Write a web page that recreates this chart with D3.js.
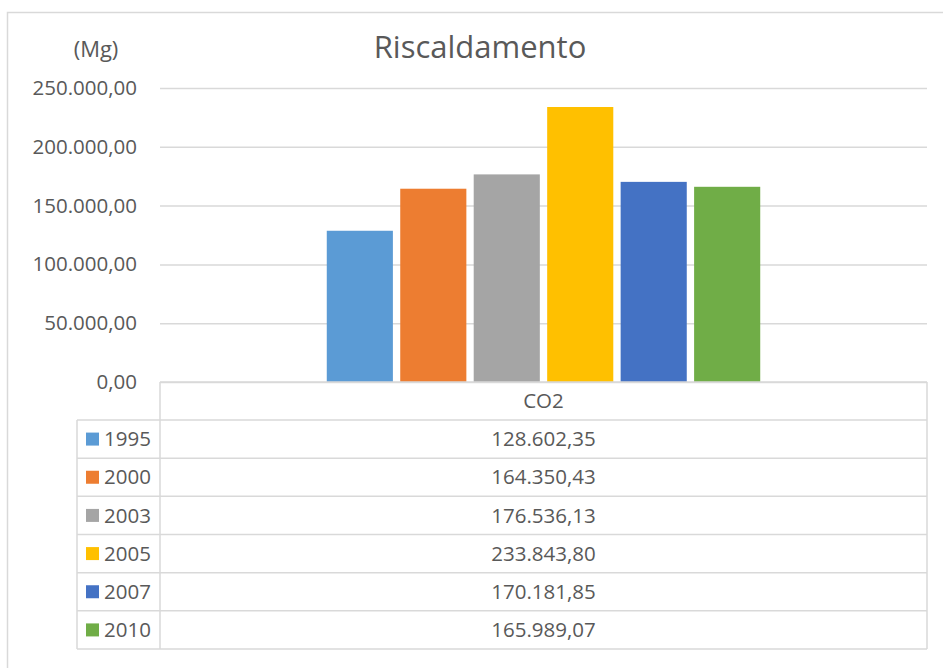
<!DOCTYPE html>
<html>
<head>
<meta charset="utf-8">
<script src="https://cdn.jsdelivr.net/npm/d3@7"></script>
<style>
  body { margin: 0; background: #fff; }
  svg text { font-family: "Open Sans", "Liberation Sans", sans-serif; fill: #595959; }
</style>
</head>
<body>
<div id="svg_container"></div>
<script>
/* -----------------------
data
------------------------- */

var categories = ["CO2"];
var years = ["1995", "2000", "2003", "2005", "2007", "2010"];
var values = [128602.35, 164350.43, 176536.13, 233843.80, 170181.85, 165989.07];
var colors = ["#5B9BD5", "#ED7D31", "#A5A5A5", "#FFC000", "#4472C4", "#70AD47"];
var yTicks = [0, 50000, 100000, 150000, 200000, 250000];
var title = "Riscaldamento";
var unit = "(Mg)";

/* -----------------------
main variables
------------------------- */

var width = 943;
var height = 668;
var plot = {left: 160, right: 927, top: 88, bottom: 382};
var table = {left: 77, headerBottom: 420, bottom: 649};
var lineColor = "#d9d9d9";
var fontSize = "20.5px";

var it = d3.formatLocale({decimal: ",", thousands: ".", grouping: [3], currency: ["", "€"]});
var fmt = it.format(",.2f");

var svg = d3.select("#svg_container")
	.append("svg")
	.attr("width", width)
	.attr("height", height);

// chart frame (cut by the picture on the right and bottom)
svg.append("rect")
	.attr("x", 7.5)
	.attr("y", 12.5)
	.attr("width", 1000)
	.attr("height", 1000)
	.attr("fill", "none")
	.attr("stroke", lineColor)
	.attr("stroke-width", 1.5);

/* -----------------------
scales
------------------------- */

var y = d3.scaleLinear()
	.domain([0, 250000])
	.range([plot.bottom, plot.top]);

var x0 = d3.scaleBand()
	.domain(categories)
	.range([plot.left, plot.right])
	.paddingOuter(0.37);

var x1 = d3.scaleBand()
	.domain(years)
	.range([0, x0.bandwidth()])
	.paddingInner(0.1)
	.paddingOuter(0.05);

var row = d3.scaleBand()
	.domain(years)
	.range([table.headerBottom, table.bottom]);

/* -----------------------
axis + grid
------------------------- */

var yAxis = svg.append("g")
	.attr("transform", "translate(" + plot.left + ",0)")
	.call(d3.axisLeft(y).tickValues(yTicks).tickFormat(fmt).tickSize(-(plot.right - plot.left)).tickPadding(23));

yAxis.select(".domain").remove();
yAxis.selectAll(".tick line").attr("stroke", lineColor).attr("stroke-width", 1.5);
yAxis.selectAll(".tick text")
	.style("font-size", fontSize)
	.attr("fill", "#595959");

/* -----------------------
bars
------------------------- */

var group = svg.selectAll(".cat")
	.data(categories)
	.enter()
	.append("g")
	.attr("class", "cat")
	.attr("transform", function(d) { return "translate(" + x0(d) + ",0)"; });

group.selectAll("rect")
	.data(years)
	.enter()
	.append("rect")
	.attr("x", function(d) { return x1(d); })
	.attr("y", function(d, i) { return y(values[i]); })
	.attr("width", x1.bandwidth())
	.attr("height", function(d, i) { return y(0) - y(values[i]); })
	.attr("fill", function(d, i) { return colors[i]; });

/* -----------------------
data table
------------------------- */

var grid = svg.append("g")
	.attr("fill", "none")
	.attr("stroke", lineColor)
	.attr("stroke-width", 1.5);

// header row
grid.append("line").attr("x1", plot.left).attr("x2", plot.right).attr("y1", plot.bottom).attr("y2", plot.bottom);
// rows
years.forEach(function(d) {
	grid.append("line")
		.attr("x1", table.left).attr("x2", plot.right)
		.attr("y1", row(d)).attr("y2", row(d));
});
grid.append("line").attr("x1", table.left).attr("x2", plot.right).attr("y1", table.bottom).attr("y2", table.bottom);
// verticals
grid.append("line").attr("x1", table.left).attr("x2", table.left).attr("y1", table.headerBottom).attr("y2", table.bottom);
grid.append("line").attr("x1", plot.left).attr("x2", plot.left).attr("y1", plot.bottom).attr("y2", table.bottom);
grid.append("line").attr("x1", plot.right).attr("x2", plot.right).attr("y1", plot.bottom).attr("y2", table.bottom);

categories.forEach(function(c) {
	svg.append("text")
		.attr("x", x0(c) + x0.bandwidth() / 2)
		.attr("y", (plot.bottom + table.headerBottom) / 2)
		.attr("dy", "0.35em")
		.attr("text-anchor", "middle")
		.style("font-size", fontSize)
		.text(c);
});

var rows = svg.selectAll(".row")
	.data(years)
	.enter()
	.append("g")
	.attr("class", "row")
	.attr("transform", function(d) { return "translate(0," + (row(d) + row.bandwidth() / 2) + ")"; });

rows.append("rect")
	.attr("x", 86)
	.attr("y", -6.5)
	.attr("width", 13)
	.attr("height", 13)
	.attr("fill", function(d, i) { return colors[i]; });

rows.append("text")
	.attr("x", 104)
	.attr("dy", "0.35em")
	.style("font-size", fontSize)
	.text(function(d) { return d; });

rows.append("text")
	.attr("x", x0(categories[0]) + x0.bandwidth() / 2)
	.attr("dy", "0.35em")
	.attr("text-anchor", "middle")
	.style("font-size", fontSize)
	.text(function(d, i) { return fmt(values[i]); });

/* -----------------------
titles
------------------------- */

svg.append("text")
	.attr("x", 480)
	.attr("y", 58)
	.attr("text-anchor", "middle")
	.style("font-size", "31px")
	.text(title);

svg.append("text")
	.attr("x", 96)
	.attr("y", 57)
	.attr("text-anchor", "middle")
	.style("font-size", "22px")
	.text(unit);
</script>
</body>
</html>
